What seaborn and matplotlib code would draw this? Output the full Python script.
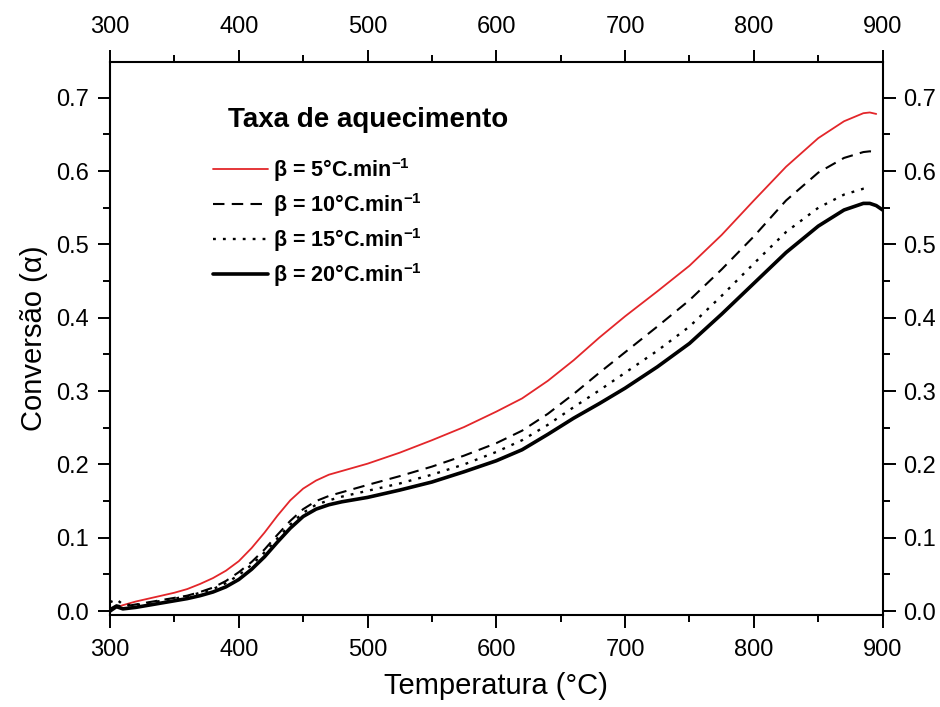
import numpy as np
import pandas as pd
import seaborn as sns
import matplotlib
matplotlib.use("Agg")
import matplotlib.pyplot as plt
from matplotlib.ticker import MultipleLocator, FormatStrFormatter

# Temperature grid (°C) and conversion for each heating rate
temperatura = [300, 305, 310, 320, 330, 340, 350, 360, 370, 380, 390, 400, 410,
               420, 430, 440, 450, 460, 470, 480, 490, 500, 525, 550, 575, 600,
               620, 640, 660, 680, 700, 725, 750, 775, 800, 825, 850, 870, 885,
               890, 895, 900]

alpha_5 = [0.002, 0.005, 0.008, 0.013, 0.017, 0.021, 0.025, 0.030, 0.037, 0.045,
           0.055, 0.068, 0.086, 0.107, 0.130, 0.151, 0.167, 0.178, 0.186, 0.191,
           0.196, 0.201, 0.216, 0.233, 0.251, 0.272, 0.290, 0.314, 0.342, 0.373,
           0.402, 0.436, 0.471, 0.513, 0.560, 0.606, 0.645, 0.668, 0.679, 0.680,
           0.678, np.nan]

alpha_10 = [0.003, 0.008, 0.006, 0.009, 0.012, 0.015, 0.018, 0.021, 0.026, 0.032,
            0.041, 0.053, 0.067, 0.084, 0.104, 0.123, 0.139, 0.150, 0.157, 0.162,
            0.167, 0.172, 0.184, 0.197, 0.212, 0.229, 0.246, 0.269, 0.296, 0.325,
            0.353, 0.388, 0.424, 0.466, 0.511, 0.560, 0.598, 0.618, 0.626, 0.627,
            0.626, np.nan]

alpha_15 = [0.012, 0.016, 0.009, 0.008, 0.011, 0.014, 0.017, 0.020, 0.025, 0.030,
            0.038, 0.049, 0.063, 0.080, 0.099, 0.118, 0.134, 0.145, 0.151, 0.156,
            0.160, 0.164, 0.174, 0.186, 0.200, 0.217, 0.233, 0.254, 0.278, 0.301,
            0.325, 0.355, 0.388, 0.430, 0.474, 0.517, 0.550, 0.568, 0.576, 0.577,
            np.nan, np.nan]

alpha_20 = [0.000, 0.006, 0.003, 0.005, 0.008, 0.011, 0.014, 0.017, 0.021, 0.026,
            0.033, 0.043, 0.057, 0.074, 0.094, 0.113, 0.129, 0.139, 0.145, 0.149,
            0.152, 0.155, 0.165, 0.176, 0.190, 0.205, 0.220, 0.241, 0.263, 0.283,
            0.304, 0.333, 0.365, 0.405, 0.447, 0.489, 0.525, 0.547, 0.556, 0.556,
            0.553, 0.547]

rotulos = ["β = 5°C.min$^{-1}$", "β = 10°C.min$^{-1}$",
           "β = 15°C.min$^{-1}$", "β = 20°C.min$^{-1}$"]

sns.set_theme(style="white")
plt.rcParams["font.family"] = ["Liberation Sans", "DejaVu Sans"]
plt.rcParams["mathtext.default"] = "regular"
plt.rcParams["text.color"] = "black"
plt.rcParams["axes.labelcolor"] = "black"
plt.rcParams["xtick.color"] = "black"
plt.rcParams["ytick.color"] = "black"

fig = plt.figure(figsize=(9.4, 7.07), dpi=100)
ax = fig.add_axes([0.117, 0.130, 0.822, 0.783])

estilos = [
    dict(color="#e3262a", linewidth=1.3, dashes=None),
    dict(color="black", linewidth=1.5, dashes=(5.5, 3.5)),
    dict(color="black", linewidth=1.7, dashes=(1.2, 3.0)),
    dict(color="black", linewidth=2.6, dashes=None),
]

series = [alpha_5, alpha_10, alpha_15, alpha_20]
for valores, rotulo, est in zip(series, rotulos, estilos):
    df = pd.DataFrame({"T": temperatura, "a": valores}).dropna()
    sns.lineplot(data=df, x="T", y="a", ax=ax, color=est["color"],
                 linewidth=est["linewidth"], label=rotulo, sort=True,
                 errorbar=None)
    linha = ax.get_lines()[-1]
    linha.set_solid_joinstyle("round")
    if est["dashes"] is not None:
        linha.set_dashes(est["dashes"])
        linha.set_dash_capstyle("butt")

ax.set_xlim(300, 900)
ax.set_ylim(-0.0055, 0.7495)
ax.xaxis.set_major_locator(MultipleLocator(100))
ax.xaxis.set_minor_locator(MultipleLocator(50))
ax.yaxis.set_major_locator(MultipleLocator(0.1))
ax.yaxis.set_minor_locator(MultipleLocator(0.05))
ax.yaxis.set_major_formatter(FormatStrFormatter("%.1f"))

for lado in ["left", "right", "top", "bottom"]:
    ax.spines[lado].set_visible(True)
    ax.spines[lado].set_linewidth(1.5)
    ax.spines[lado].set_color("black")

ax.tick_params(which="both", direction="out", top=True, right=True,
               bottom=True, left=True, labeltop=True, labelright=True,
               colors="black")
ax.tick_params(which="major", length=9, width=1.4, labelsize=17, pad=6)
ax.tick_params(axis="x", which="major", pad=8)
ax.tick_params(which="minor", length=5, width=1.4)

ax.set_xlabel("Temperatura (°C)", fontsize=21, labelpad=8)
ax.set_ylabel("Conversão (α)", fontsize=21, labelpad=6)

ax.text(0.153, 0.895, "Taxa de aquecimento", transform=ax.transAxes,
        fontsize=20, fontweight="bold", va="center", ha="left")

leg = ax.legend(loc="upper left", bbox_to_anchor=(0.133, 0.83),
                frameon=False, borderpad=0, borderaxespad=0,
                handlelength=2.55, handletextpad=0.25, labelspacing=0.33,
                prop={"size": 15.5, "weight": "bold"})

fig.savefig("out.png", dpi=100)
